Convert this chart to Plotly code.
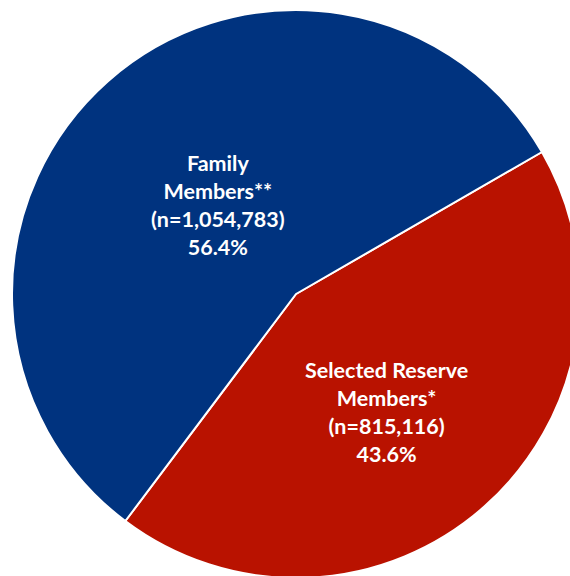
import plotly.graph_objects as go

labels = ["Selected Reserve<br>Members*", "Family<br>Members**"]
counts = [815116, 1054783]
percents = ["43.6%", "56.4%"]
colors = ["#B91200", "#00337F"]

fig = go.Figure(go.Pie(
    labels=labels,
    values=counts,
    sort=False,
    direction="clockwise",
    rotation=60,
    marker=dict(colors=colors, line=dict(color="white", width=2)),
    textinfo="none",
    hoverinfo="label+value+percent",
    showlegend=False,
))

ann_pos = [(0.659, 0.293), (0.362, 0.657)]
for lab, n, p, (x, y) in zip(labels, counts, percents, ann_pos):
    fig.add_annotation(
        x=x, y=y, xref="paper", yref="paper", showarrow=False,
        text=f"{lab}<br>(n={n:,})<br>{p}",
        font=dict(family="Lato", size=21.5, color="white", weight="bold"),
        align="center", xanchor="center", yanchor="middle",
    )

fig.update_layout(
    width=620, height=620,
    margin=dict(l=12, t=10, r=40, b=42, pad=0),
    paper_bgcolor="white", plot_bgcolor="white",
)

fig.write_html(
    "out.html",
    config={"displayModeBar": False},
    post_script="document.body.style.margin='0';document.body.style.overflow='hidden';",
)
